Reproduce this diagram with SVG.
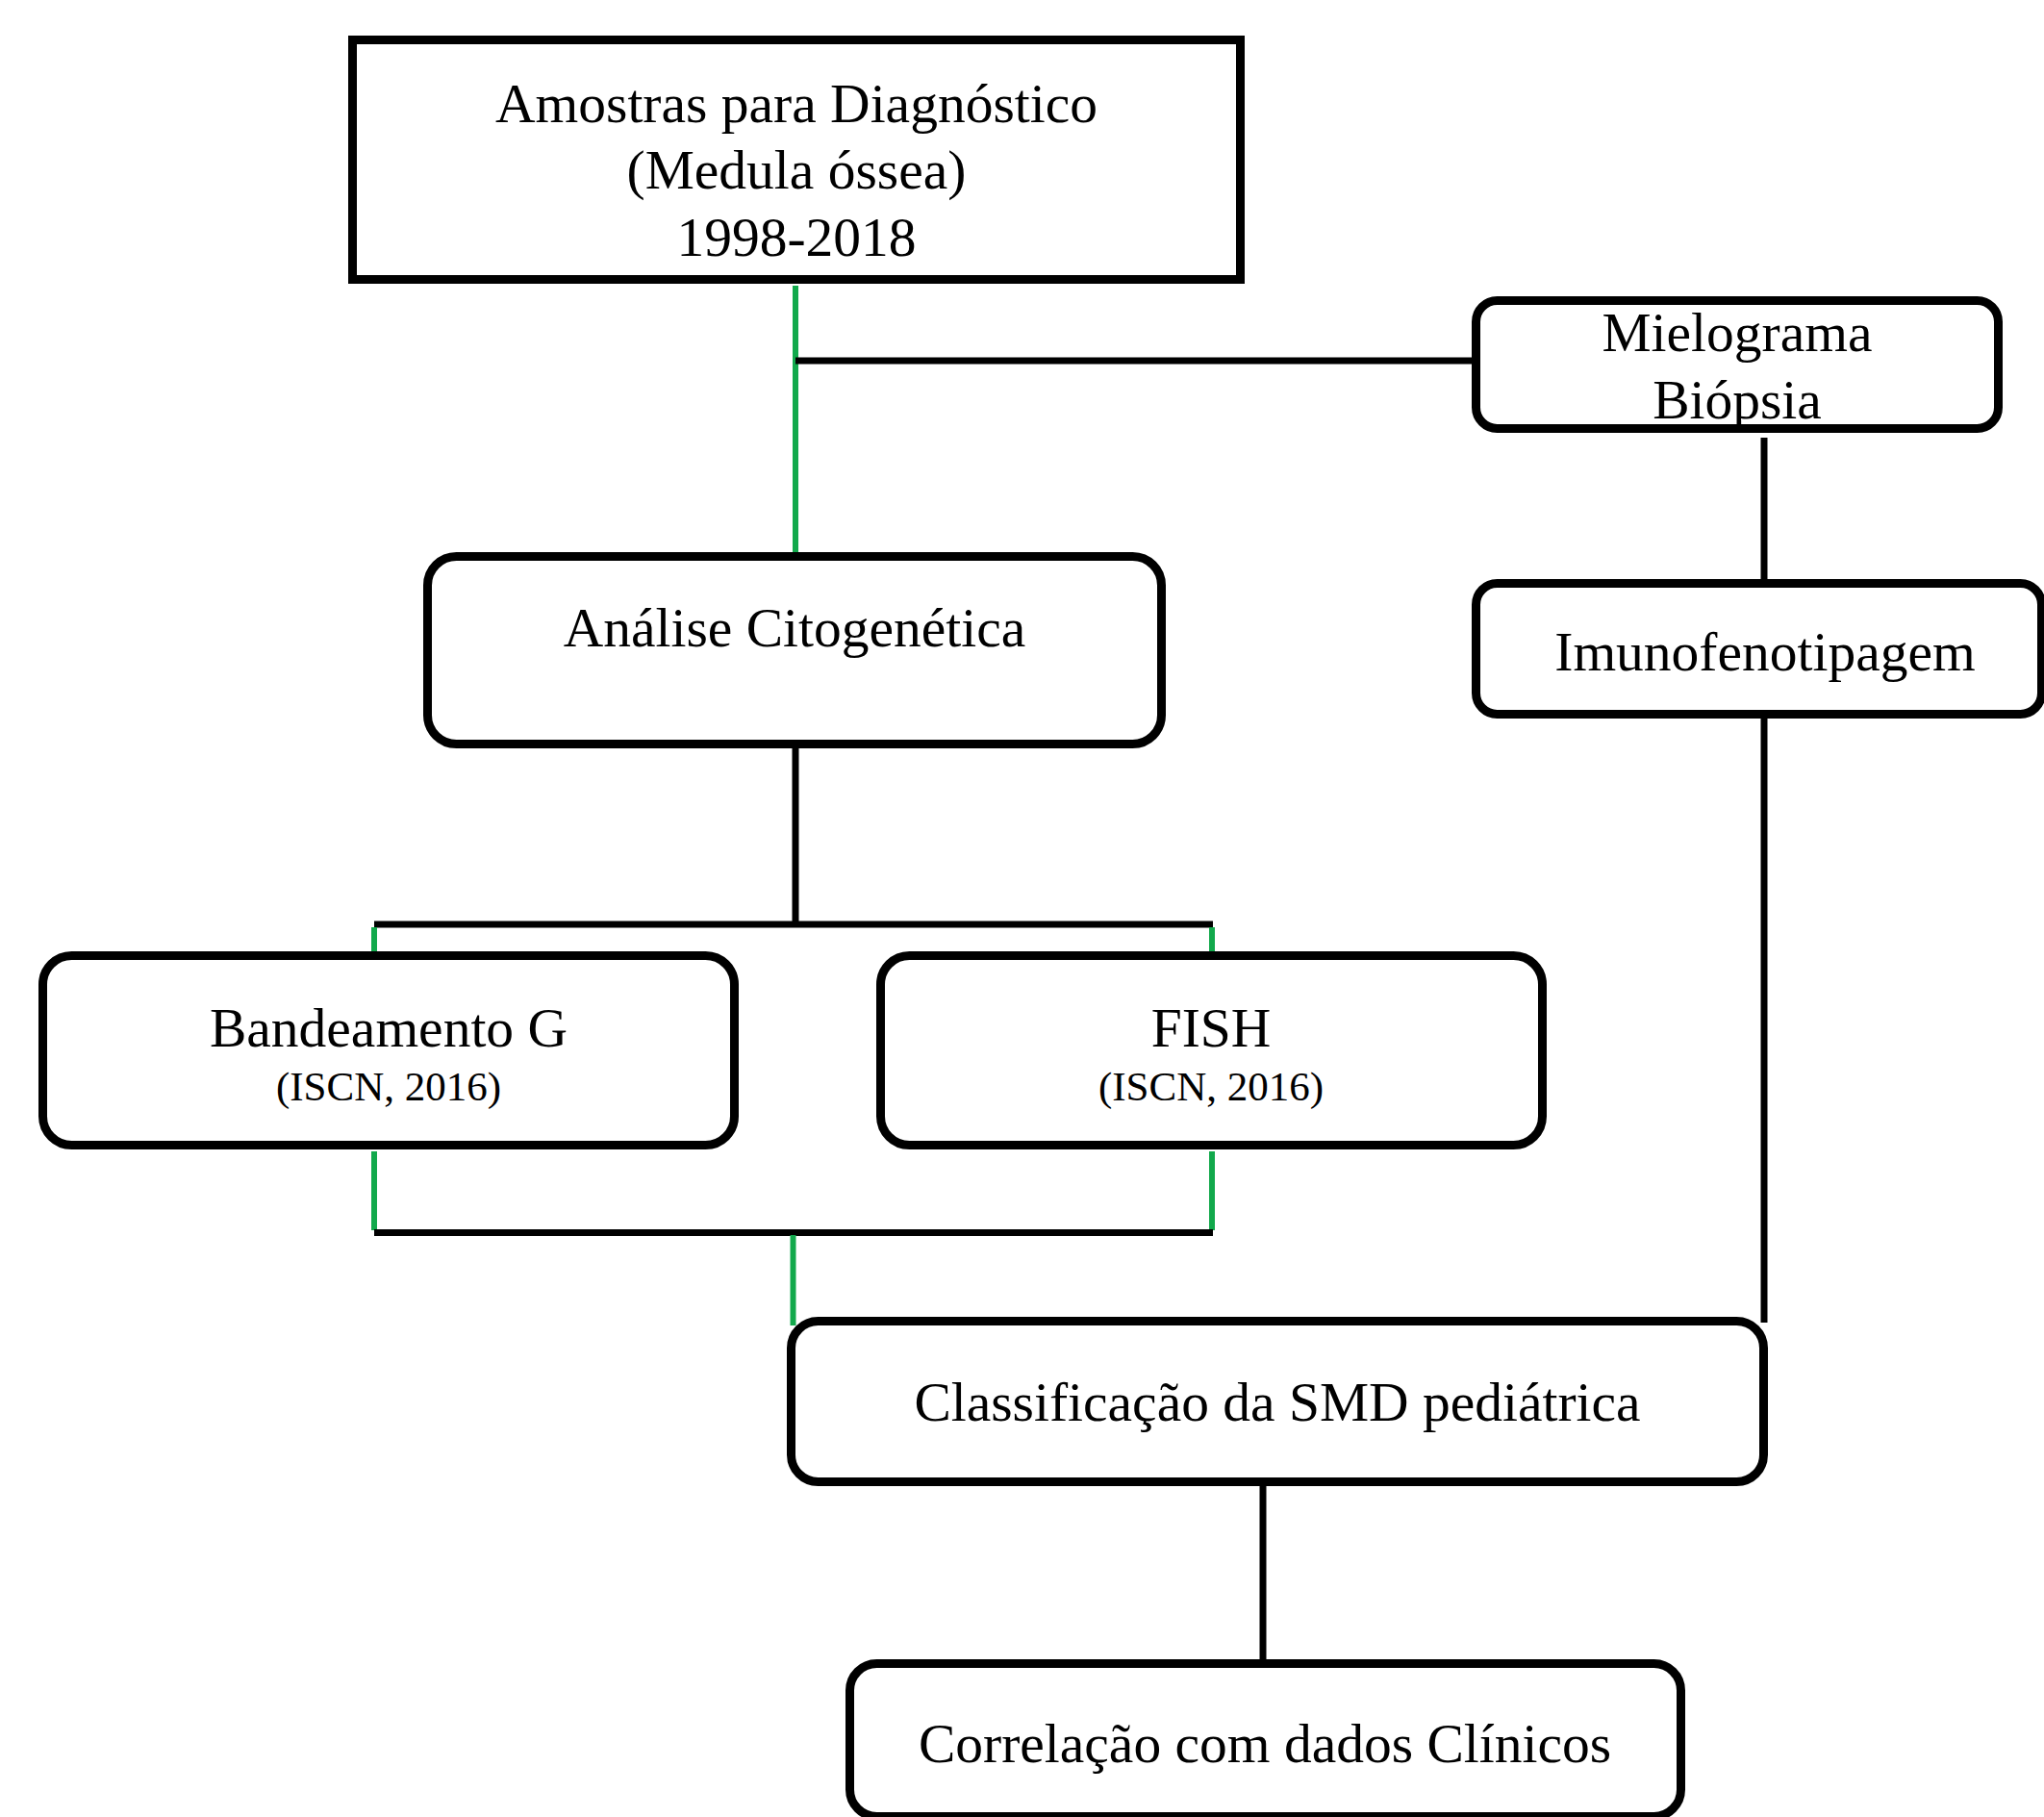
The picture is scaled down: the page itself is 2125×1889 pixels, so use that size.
<svg xmlns="http://www.w3.org/2000/svg" width="2125" height="1889" viewBox="0 0 2125 1889">
<style>
.box{fill:#fff;stroke:#000;stroke-width:9}
.t{font-family:"Liberation Serif","Times New Roman",serif;font-size:57.5px;fill:#000;text-anchor:middle}
.s{font-size:43px}
.k{fill:none;stroke:#000;stroke-width:7}
.g{fill:none;stroke:#12a94c;stroke-width:6}
</style>
<rect width="2125" height="1889" fill="#fff"/>
<g id="connectors">
<path class="g" d="M827 297V574"/>
<path class="k" d="M827 375H1538"/>
<path class="k" d="M1834 455V602"/>
<path class="k" d="M1834 747V1375"/>
<path class="k" d="M827 778V962"/>
<path class="k" d="M389 961H1261"/>
<path class="g" d="M389 964V990M1260 964V990"/>
<path class="g" d="M389 1197V1279M1260 1197V1279"/>
<path class="k" d="M389 1281.5H1261"/>
<path class="g" d="M824.5 1284V1378"/>
<path class="k" d="M1313 1545V1726"/>
</g>
<g id="amostras">
<rect class="box" x="366.5" y="41.5" width="923" height="249"/>
<text class="t" x="828" y="127">Amostras para Diagnóstico</text>
<text class="t" x="828" y="196">(Medula óssea)</text>
<text class="t" x="828" y="266">1998-2018</text>
</g>
<g id="mielograma">
<rect class="box" x="1534.5" y="312.5" width="543" height="133" rx="22"/>
<text class="t" x="1806" y="365">Mielograma</text>
<text class="t" x="1806" y="435">Biópsia</text>
</g>
<g id="imunofenotipagem">
<rect class="box" x="1534.5" y="606.5" width="588" height="136" rx="22"/>
<text class="t" x="1835" y="697">Imunofenotipagem</text>
</g>
<g id="analise">
<rect class="box" x="444.5" y="578.5" width="763" height="195" rx="30"/>
<text class="t" x="826" y="672">Análise Citogenética</text>
</g>
<g id="bandeamento">
<rect class="box" x="44.5" y="993.5" width="719" height="197" rx="30"/>
<text class="t" x="404" y="1088">Bandeamento G</text>
<text class="t s" x="404" y="1144">(ISCN, 2016)</text>
</g>
<g id="fish">
<rect class="box" x="915.5" y="993.5" width="688" height="197" rx="30"/>
<text class="t" x="1259" y="1088">FISH</text>
<text class="t s" x="1259" y="1144">(ISCN, 2016)</text>
</g>
<g id="classificacao">
<rect class="box" x="822.5" y="1373.5" width="1011" height="167" rx="28"/>
<text class="t" x="1328" y="1477">Classificação da SMD pediátrica</text>
</g>
<g id="correlacao">
<rect class="box" x="883.5" y="1729.5" width="864" height="159" rx="28"/>
<text class="t" x="1315" y="1832">Correlação com dados Clínicos</text>
</g>
</svg>
